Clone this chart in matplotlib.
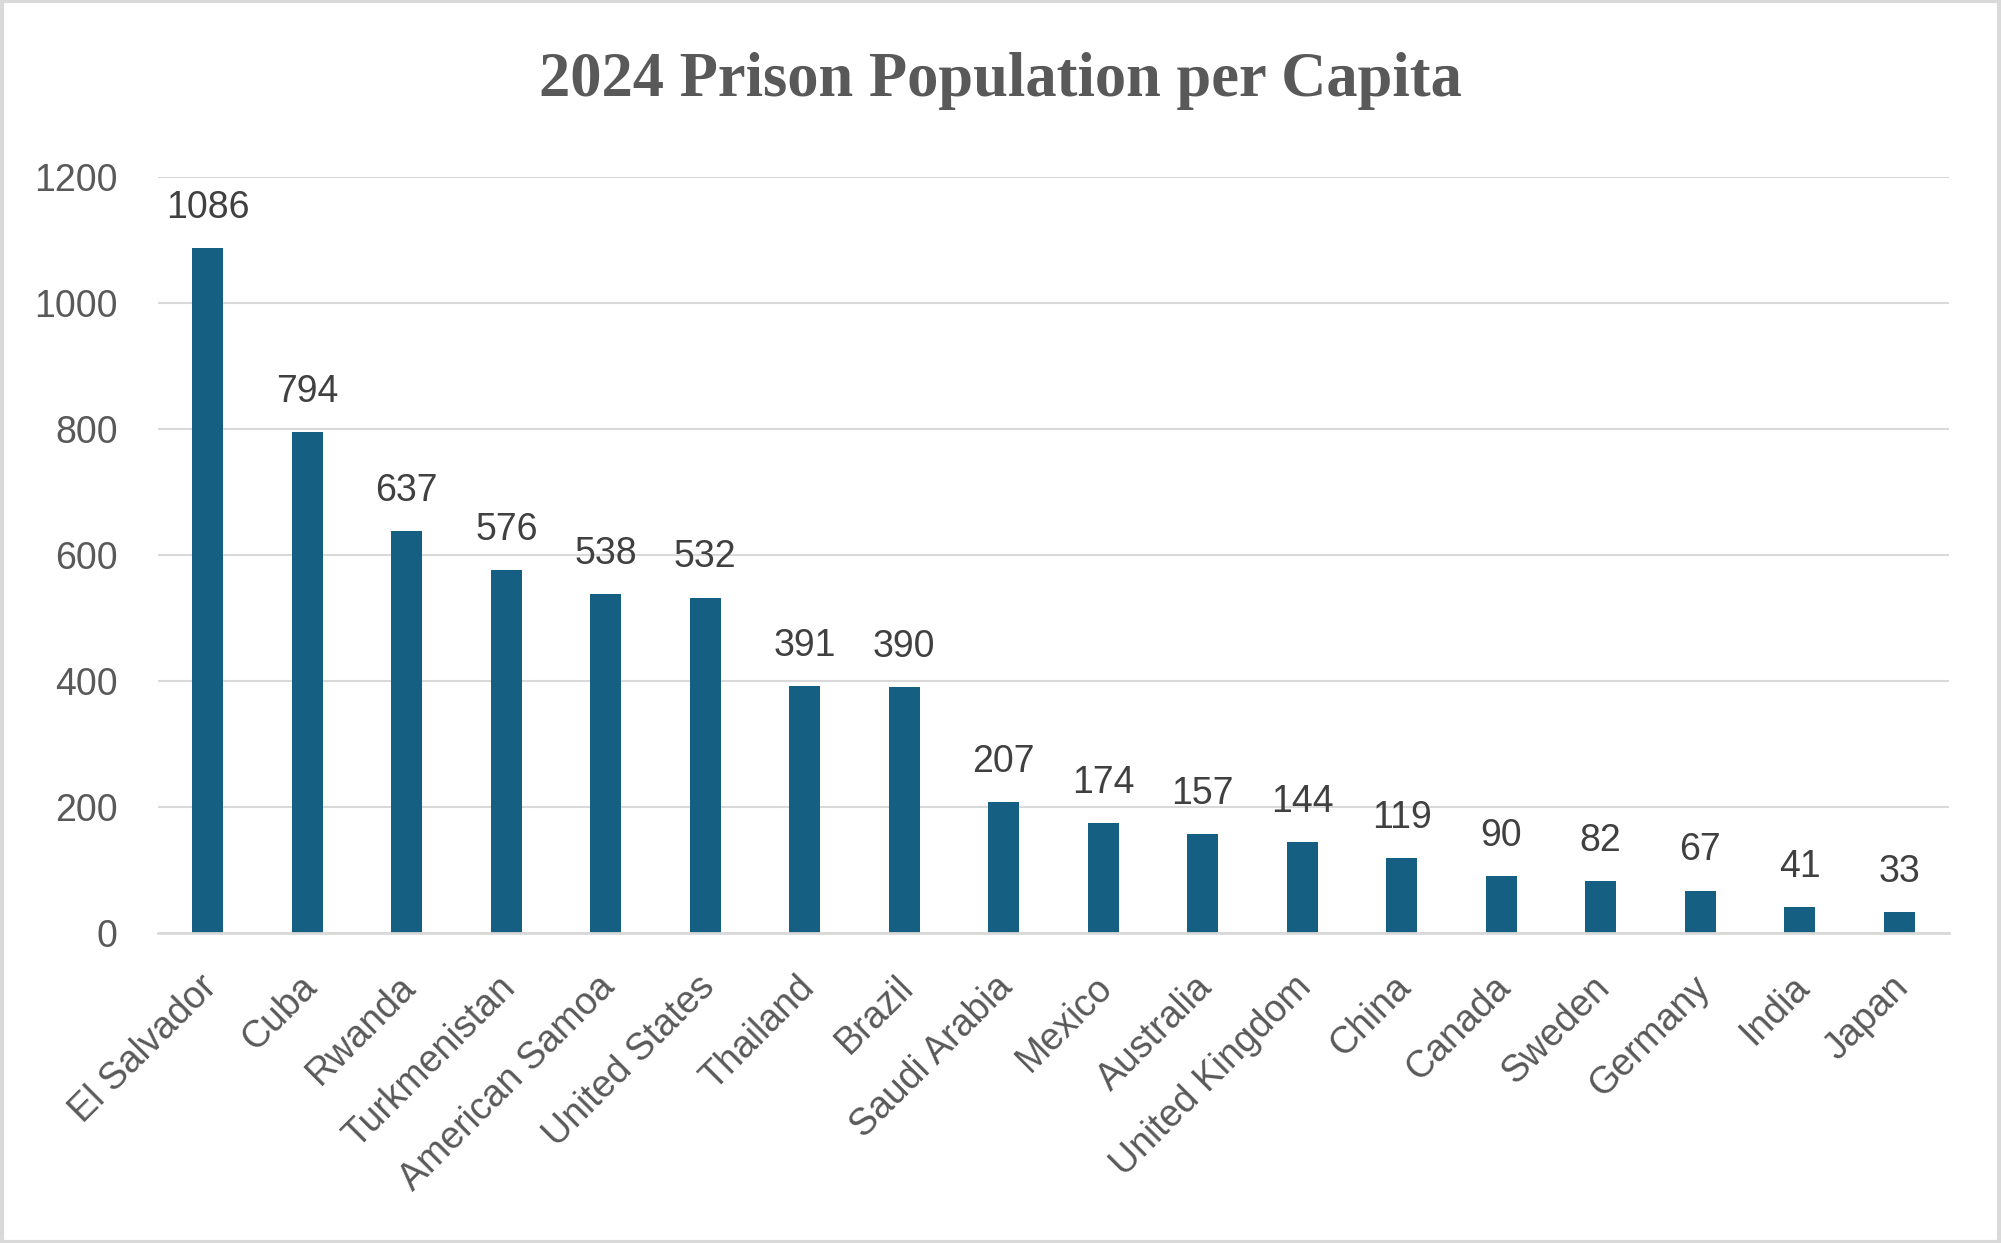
import matplotlib.pyplot as plt
from matplotlib.patches import Rectangle
from matplotlib.transforms import ScaledTranslation

countries = ["El Salvador", "Cuba", "Rwanda", "Turkmenistan", "American Samoa",
             "United States", "Thailand", "Brazil", "Saudi Arabia", "Mexico",
             "Australia", "United Kingdom", "China", "Canada", "Sweden",
             "Germany", "India", "Japan"]
rates = [1086, 794, 637, 576, 538, 532, 391, 390, 207, 174, 157, 144, 119,
         90, 82, 67, 41, 33]
yticks = [0, 200, 400, 600, 800, 1000, 1200]

bar_color = "#156082"
text_color = "#595959"
grid_color = "#d9d9d9"

plt.rcParams['font.family'] = ['Liberation Sans', 'DejaVu Sans']

fig = plt.figure(figsize=(20.01, 12.43), dpi=100)
ax = fig.add_axes([0.079, 0.2495, 0.895, 0.6085])

x = range(len(countries))
bars = ax.bar(x, rates, width=0.31, color=bar_color, zorder=3)

# value labels above bars
for xi, v in zip(x, rates):
    ax.annotate(str(v), xy=(xi, v), xytext=(0, 16), textcoords="offset points",
                ha="center", va="bottom", fontsize=27, color="#404040")

ax.set_xlim(-0.5, len(countries) - 0.5)
ax.set_ylim(0, 1200)
ax.set_yticks(yticks)
ax.set_yticklabels([str(t) for t in yticks])
ax.set_xticks(list(x))
ax.set_xticklabels(countries, rotation=45, ha="right", rotation_mode="anchor")

ax.tick_params(axis="y", length=0, pad=29, labelsize=27, labelcolor=text_color)
ax.tick_params(axis="x", length=0, pad=24, labelsize=27, labelcolor=text_color)

# nudge rotated labels a little left/down, like the original
shift = ScaledTranslation(-0.09, -0.03, fig.dpi_scale_trans)
for lbl in ax.get_xticklabels():
    lbl.set_transform(lbl.get_transform() + shift)

ax.grid(axis="y", color=grid_color, linewidth=1.5, zorder=0)
for side in ["top", "right", "left"]:
    ax.spines[side].set_visible(False)
ax.spines["bottom"].set_color(grid_color)
ax.spines["bottom"].set_linewidth(2)
ax.spines["bottom"].set_zorder(4)

fig.text(0.5, 0.935, "2024 Prison Population per Capita", ha="center",
         va="center", fontsize=45, color=text_color,
         family=["Liberation Serif", "DejaVu Serif"], weight="bold")

# light border around the whole chart
fig.patches.append(Rectangle((0.001, 0.001), 0.998, 0.998, transform=fig.transFigure,
                             fill=False, edgecolor=grid_color, linewidth=3))

fig.savefig("out.png", dpi=100, facecolor="white")
